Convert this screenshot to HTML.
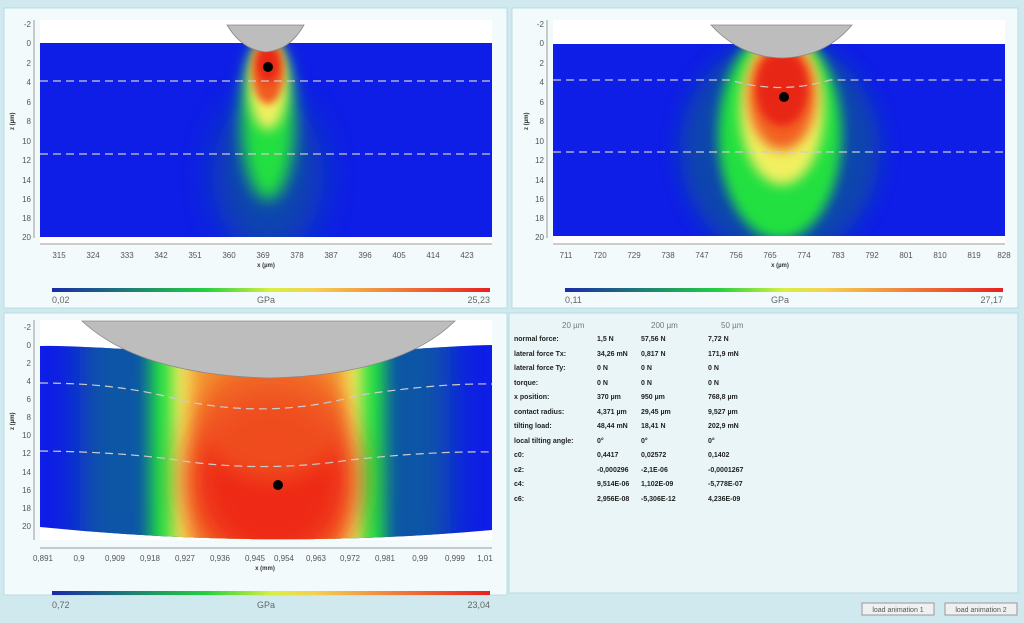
<!DOCTYPE html>
<html><head><style>
body{margin:0;width:1024px;height:618px;overflow:hidden;background:#cfe9ee;font-family:"Liberation Sans",sans-serif}
</style></head><body>
<svg width="1024" height="618" xmlns="http://www.w3.org/2000/svg" font-family="Liberation Sans, sans-serif">
<defs>
<linearGradient id="cb" x1="0" x2="1"><stop offset="0" stop-color="#1a2aa8"/><stop offset="0.35" stop-color="#22d040"/><stop offset="0.5" stop-color="#d8f040"/><stop offset="0.6" stop-color="#f5d050"/><stop offset="1" stop-color="#e82020"/></linearGradient>
<filter id="b6" x="-50%" y="-50%" width="200%" height="200%"><feGaussianBlur stdDeviation="6"/></filter>
<filter id="b8" x="-50%" y="-50%" width="200%" height="200%"><feGaussianBlur stdDeviation="8"/></filter>
<filter id="b10" x="-50%" y="-50%" width="200%" height="200%"><feGaussianBlur stdDeviation="10"/></filter>
<filter id="b16" x="-50%" y="-50%" width="200%" height="200%"><feGaussianBlur stdDeviation="16"/></filter>
<filter id="b4" x="-50%" y="-50%" width="200%" height="200%"><feGaussianBlur stdDeviation="4"/></filter>
<clipPath id="c1"><rect x="40" y="43" width="452" height="194"/></clipPath>
<clipPath id="c2"><rect x="553" y="44" width="452" height="192"/></clipPath>
<clipPath id="c3"><path d="M40 346 Q60 345 140 350 Q270 372 400 350 Q470 345 492 345 L492 530 Q270 550 40 527 Z"/></clipPath>
</defs>
<rect x="4" y="8" width="503" height="300" fill="#f3fafb" stroke="#b8dde3"/>
<rect x="512" y="8" width="506" height="300" fill="#f3fafb" stroke="#b8dde3"/>
<rect x="4" y="313" width="503" height="282" fill="#f3fafb" stroke="#b8dde3"/>
<rect x="509" y="313" width="509" height="280" fill="#eaf5f7" stroke="#b8dde3"/>

<!-- panel 1 -->
<rect x="40" y="20" width="452" height="225" fill="#fff"/>
<g clip-path="url(#c1)">
<rect x="40" y="43" width="452" height="194" fill="#0f1ee6"/>
<ellipse cx="268" cy="175" rx="55" ry="80" fill="#1050a0" filter="url(#b16)" opacity="0.8"/>
<ellipse cx="268" cy="120" rx="27" ry="80" fill="#20e040" filter="url(#b8)"/>
<ellipse cx="268" cy="85" rx="19" ry="45" fill="#f0f060" filter="url(#b6)"/>
<ellipse cx="268" cy="72" rx="16" ry="32" fill="#f05a20" filter="url(#b4)"/>
<ellipse cx="268" cy="64" rx="11" ry="18" fill="#e82818" filter="url(#b4)"/>
</g>
<path d="M40 81 H492" stroke="#ccc" stroke-dasharray="8 5" stroke-width="1.2"/>
<path d="M40 154 H492" stroke="#ccc" stroke-dasharray="8 5" stroke-width="1.2"/>
<path d="M227 25 H304 Q290 50 266 52 Q242 50 227 25Z" fill="#bdbdbd" stroke="#888" stroke-width="0.8"/>
<circle cx="268" cy="67" r="5" fill="#000"/>
<path d="M34 20 V238 M40 244 H492" stroke="#999"/>
<g font-size="8" fill="#555" text-anchor="end">
<text x="31" y="27">-2</text><text x="31" y="46">0</text><text x="31" y="66">2</text><text x="31" y="85">4</text><text x="31" y="105">6</text><text x="31" y="124">8</text><text x="31" y="144">10</text><text x="31" y="163">12</text><text x="31" y="183">14</text><text x="31" y="202">16</text><text x="31" y="221">18</text><text x="31" y="240">20</text>
</g>
<text x="14" y="130" font-size="6" fill="#333" transform="rotate(-90 14 130)" font-weight="bold">z (µm)</text>
<g font-size="8" fill="#555" text-anchor="middle">
<text x="59" y="258">315</text><text x="93" y="258">324</text><text x="127" y="258">333</text><text x="161" y="258">342</text><text x="195" y="258">351</text><text x="229" y="258">360</text><text x="263" y="258">369</text><text x="297" y="258">378</text><text x="331" y="258">387</text><text x="365" y="258">396</text><text x="399" y="258">405</text><text x="433" y="258">414</text><text x="467" y="258">423</text>
</g>
<text x="266" y="267" font-size="6" fill="#333" text-anchor="middle" font-weight="bold">x (µm)</text>
<rect x="52" y="288" width="438" height="4" fill="url(#cb)"/>
<g font-size="9" fill="#666"><text x="52" y="303">0,02</text><text x="266" y="303" text-anchor="middle">GPa</text><text x="490" y="303" text-anchor="end">25,23</text></g>

<!-- panel 2 -->
<rect x="553" y="20" width="452" height="225" fill="#fff"/>
<g clip-path="url(#c2)">
<rect x="553" y="43" width="452" height="194" fill="#0f1ee6"/>
<ellipse cx="780" cy="150" rx="100" ry="110" fill="#1050a0" filter="url(#b10)" opacity="0.8"/>
<ellipse cx="780" cy="135" rx="62" ry="105" fill="#20e040" filter="url(#b6)"/>
<ellipse cx="782" cy="110" rx="42" ry="75" fill="#f0f060" filter="url(#b6)"/>
<ellipse cx="782" cy="95" rx="34" ry="55" fill="#f26020" filter="url(#b6)"/>
<ellipse cx="782" cy="88" rx="26" ry="38" fill="#e82818" filter="url(#b4)"/>
</g>
<path d="M553 80 H730 Q780 95 830 80 H1005" fill="none" stroke="#ccc" stroke-dasharray="8 5" stroke-width="1.2"/>
<path d="M553 152 H1005" stroke="#ccc" stroke-dasharray="8 5" stroke-width="1.2"/>
<path d="M711 25 H852 Q825 57 782 58 Q740 57 711 25Z" fill="#bdbdbd" stroke="#888" stroke-width="0.8"/>
<circle cx="784" cy="97" r="5" fill="#000"/>
<path d="M547 20 V238 M553 244 H1005" stroke="#999"/>
<g font-size="8" fill="#555" text-anchor="end">
<text x="544" y="27">-2</text><text x="544" y="46">0</text><text x="544" y="66">2</text><text x="544" y="85">4</text><text x="544" y="105">6</text><text x="544" y="124">8</text><text x="544" y="144">10</text><text x="544" y="163">12</text><text x="544" y="183">14</text><text x="544" y="202">16</text><text x="544" y="221">18</text><text x="544" y="240">20</text>
</g>
<text x="528" y="130" font-size="6" fill="#333" transform="rotate(-90 528 130)" font-weight="bold">z (µm)</text>
<g font-size="8" fill="#555" text-anchor="middle">
<text x="566" y="258">711</text><text x="600" y="258">720</text><text x="634" y="258">729</text><text x="668" y="258">738</text><text x="702" y="258">747</text><text x="736" y="258">756</text><text x="770" y="258">765</text><text x="804" y="258">774</text><text x="838" y="258">783</text><text x="872" y="258">792</text><text x="906" y="258">801</text><text x="940" y="258">810</text><text x="974" y="258">819</text><text x="1004" y="258">828</text>
</g>
<text x="780" y="267" font-size="6" fill="#333" text-anchor="middle" font-weight="bold">x (µm)</text>
<rect x="565" y="288" width="438" height="4" fill="url(#cb)"/>
<g font-size="9" fill="#666"><text x="565" y="303">0,11</text><text x="780" y="303" text-anchor="middle">GPa</text><text x="1003" y="303" text-anchor="end">27,17</text></g>

<!-- panel 3 -->
<rect x="40" y="320" width="452" height="220" fill="#fff"/>
<g clip-path="url(#c3)">
<rect x="40" y="330" width="452" height="220" fill="#0f1ee6"/>
<rect x="80" y="300" width="370" height="280" fill="#10609a" filter="url(#b16)" opacity="0.85"/>
<rect x="150" y="300" width="235" height="280" fill="#20e040" filter="url(#b8)"/>
<rect x="172" y="300" width="190" height="280" fill="#f0f060" filter="url(#b8)"/>
<rect x="190" y="300" width="155" height="280" fill="#f49030" filter="url(#b10)"/>
<ellipse cx="272" cy="480" rx="85" ry="90" fill="#ee2a18" filter="url(#b16)"/>
<ellipse cx="272" cy="420" rx="70" ry="60" fill="#f05a22" filter="url(#b10)" opacity="0.7"/>
</g>
<path d="M40 383 Q120 383 180 400 Q270 420 360 395 Q440 383 492 384" fill="none" stroke="#ccc" stroke-dasharray="8 5" stroke-width="1.2"/>
<path d="M40 451 Q130 452 190 462 Q270 472 350 460 Q430 451 492 452" fill="none" stroke="#ccc" stroke-dasharray="8 5" stroke-width="1.2"/>
<path d="M82 321 H455 Q400 375 270 378 Q140 375 82 321Z" fill="#bdbdbd" stroke="#888" stroke-width="0.8"/>
<circle cx="278" cy="485" r="5" fill="#000"/>
<path d="M34 320 V540 M40 548 H492" stroke="#999"/>
<g font-size="8" fill="#555" text-anchor="end">
<text x="31" y="330">-2</text><text x="31" y="348">0</text><text x="31" y="366">2</text><text x="31" y="384">4</text><text x="31" y="402">6</text><text x="31" y="420">8</text><text x="31" y="438">10</text><text x="31" y="456">12</text><text x="31" y="475">14</text><text x="31" y="493">16</text><text x="31" y="511">18</text><text x="31" y="529">20</text>
</g>
<text x="14" y="430" font-size="6" fill="#333" transform="rotate(-90 14 430)" font-weight="bold">z (µm)</text>
<g font-size="8" fill="#555" text-anchor="middle">
<text x="43" y="561">0,891</text><text x="79" y="561">0,9</text><text x="115" y="561">0,909</text><text x="150" y="561">0,918</text><text x="185" y="561">0,927</text><text x="220" y="561">0,936</text><text x="255" y="561">0,945</text><text x="284" y="561">0,954</text><text x="316" y="561">0,963</text><text x="350" y="561">0,972</text><text x="385" y="561">0,981</text><text x="420" y="561">0,99</text><text x="455" y="561">0,999</text><text x="485" y="561">1,01</text>
</g>
<text x="265" y="570" font-size="6" fill="#333" text-anchor="middle" font-weight="bold">x (mm)</text>
<rect x="52" y="591" width="438" height="4" fill="url(#cb)"/>
<g font-size="9" fill="#666"><text x="52" y="608">0,72</text><text x="266" y="608" text-anchor="middle">GPa</text><text x="490" y="608" text-anchor="end">23,04</text></g>

<!-- info -->
<g font-size="8" fill="#777"><text x="562" y="328">20 µm</text><text x="651" y="328">200 µm</text><text x="721" y="328">50 µm</text></g>
<g font-size="7" fill="#222" font-weight="bold">
<text x="514" y="341">normal force:</text><text x="597" y="341">1,5 N</text><text x="641" y="341">57,56 N</text><text x="708" y="341">7,72 N</text>
<text x="514" y="356">lateral force Tx:</text><text x="597" y="356">34,26 mN</text><text x="641" y="356">0,817 N</text><text x="708" y="356">171,9 mN</text>
<text x="514" y="370">lateral force Ty:</text><text x="597" y="370">0 N</text><text x="641" y="370">0 N</text><text x="708" y="370">0 N</text>
<text x="514" y="385">torque:</text><text x="597" y="385">0 N</text><text x="641" y="385">0 N</text><text x="708" y="385">0 N</text>
<text x="514" y="399">x position:</text><text x="597" y="399">370 µm</text><text x="641" y="399">950 µm</text><text x="708" y="399">768,8 µm</text>
<text x="514" y="414">contact radius:</text><text x="597" y="414">4,371 µm</text><text x="641" y="414">29,45 µm</text><text x="708" y="414">9,527 µm</text>
<text x="514" y="428">tilting load:</text><text x="597" y="428">48,44 mN</text><text x="641" y="428">18,41 N</text><text x="708" y="428">202,9 mN</text>
<text x="514" y="443">local tilting angle:</text><text x="597" y="443">0°</text><text x="641" y="443">0°</text><text x="708" y="443">0°</text>
<text x="514" y="457">c0:</text><text x="597" y="457">0,4417</text><text x="641" y="457">0,02572</text><text x="708" y="457">0,1402</text>
<text x="514" y="472">c2:</text><text x="597" y="472">-0,000296</text><text x="641" y="472">-2,1E-06</text><text x="708" y="472">-0,0001267</text>
<text x="514" y="486">c4:</text><text x="597" y="486">9,514E-06</text><text x="641" y="486">1,102E-09</text><text x="708" y="486">-5,778E-07</text>
<text x="514" y="501">c6:</text><text x="597" y="501">2,956E-08</text><text x="641" y="501">-5,306E-12</text><text x="708" y="501">4,236E-09</text>
</g>
<rect x="862" y="603" width="72" height="12" fill="#f0f0f0" stroke="#999"/>
<text x="898" y="612" font-size="7" fill="#555" text-anchor="middle">load animation 1</text>
<rect x="945" y="603" width="72" height="12" fill="#f0f0f0" stroke="#999"/>
<text x="981" y="612" font-size="7" fill="#555" text-anchor="middle">load animation 2</text>
</svg>
</body></html>
